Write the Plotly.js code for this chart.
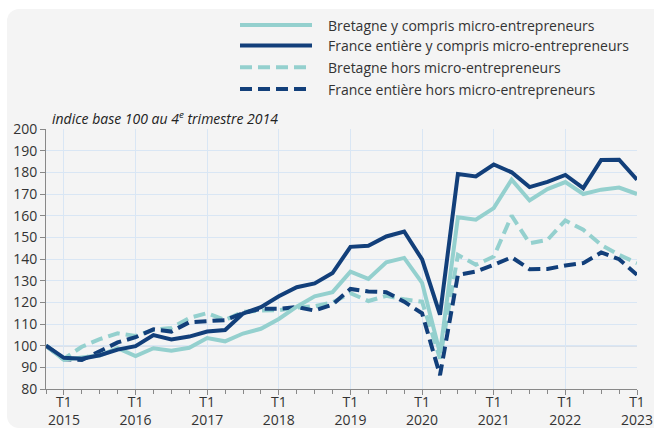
<!DOCTYPE html>
<html>
<head>
<meta charset="utf-8">
<script src="https://cdn.plot.ly/plotly-3.0.1.min.js"></script>
<style>
  html, body { margin:0; padding:0; background:#ffffff; width:654px; height:428px; overflow:hidden; }
  #panel { position:absolute; left:7px; top:9px; width:700px; height:419px; background:#f4f4f4; border-radius:12px; }
  #chart { position:absolute; left:0; top:0; width:654px; height:428px; }
</style>
</head>
<body>
<div id="panel"></div>
<div id="chart"></div>
<script>
// Quarters (index 0 = 4e trimestre 2014)
const quarters = [
  '2014 T4',
  '2015 T1','2015 T2','2015 T3','2015 T4',
  '2016 T1','2016 T2','2016 T3','2016 T4',
  '2017 T1','2017 T2','2017 T3','2017 T4',
  '2018 T1','2018 T2','2018 T3','2018 T4',
  '2019 T1','2019 T2','2019 T3','2019 T4',
  '2020 T1','2020 T2','2020 T3','2020 T4',
  '2021 T1','2021 T2','2021 T3','2021 T4',
  '2022 T1','2022 T2','2022 T3','2022 T4',
  '2023 T1'
];
const tickQuarters = ['2015 T1','2016 T1','2017 T1','2018 T1','2019 T1','2020 T1','2021 T1','2022 T1','2023 T1'];
const tickLabels = ['T1<br>2015','T1<br>2016','T1<br>2017','T1<br>2018','T1<br>2019','T1<br>2020','T1<br>2021','T1<br>2022','T1<br>2023'];

const bretagneYC = [100, 93.4, 94.6, 95.5, 98.8, 95.2, 98.8, 97.7, 99.0, 103.5, 102.0, 105.6, 107.8, 112.3, 118.0, 122.8, 124.7,
  134.2, 130.8, 138.5, 140.5, 129.0, 96.5, 159.3, 158.1, 163.5, 176.6, 167.0, 172.3, 175.5, 170.0, 172.0, 173.0, 170.0];
const franceYC = [100, 94.4, 94.0, 95.6, 98.2, 99.8, 104.9, 102.9, 104.2, 106.5, 107.2, 114.8, 117.8, 122.8, 127.0, 128.7, 133.5,
  145.6, 146.1, 150.4, 152.7, 139.8, 114.3, 179.2, 178.1, 183.6, 180.0, 173.2, 175.6, 178.8, 172.7, 185.7, 185.8, 176.6];
const bretagneHors = [100, 94.0, 99.5, 103.0, 105.7, 104.5, 107.3, 108.2, 112.8, 115.0, 111.8, 115.6, 116.2, 116.4, 117.6, 118.2, 120.0,
  124.2, 120.6, 123.0, 121.4, 120.3, 94.0, 141.9, 137.3, 141.1, 160.0, 147.3, 148.8, 157.8, 153.5, 146.5, 141.9, 138.1];
const franceHors = [100, 93.7, 93.4, 97.2, 101.5, 103.9, 107.5, 106.5, 110.8, 111.3, 111.8, 115.0, 117.0, 117.0, 117.8, 116.2, 119.0,
  126.2, 125.0, 124.7, 120.3, 114.9, 86.4, 132.7, 134.2, 137.3, 140.8, 135.3, 135.4, 137.0, 138.1, 143.0, 139.9, 132.7];

const seriesNames = [
  'Bretagne y compris micro-entrepreneurs',
  'France entière y compris micro-entrepreneurs',
  'Bretagne hors micro-entrepreneurs',
  'France entière hors micro-entrepreneurs'
];

const LIGHT = '#94d0ce';
const DARK = '#123f7a';
const DASH = '12px,6px';
const styles = [
  {color: LIGHT, dash: 'solid'},
  {color: DARK, dash: 'solid'},
  {color: LIGHT, dash: DASH},
  {color: DARK, dash: DASH}
];
const seriesData = [bretagneYC, franceYC, bretagneHors, franceHors];

const xIdx = quarters.map((q, i) => i);
const tickvals = tickQuarters.map(q => quarters.indexOf(q));

const order = [2, 3, 0, 1];
const traces = order.map(k => ({
  x: xIdx,
  y: seriesData[k],
  text: quarters,
  type: 'scatter',
  mode: 'lines',
  name: seriesNames[k],
  showlegend: false,
  line: {color: styles[k].color, width: 4, dash: styles[k].dash},
  hoverinfo: 'text+y'
}));

const L = 46, R = 17, T = 129, B = 39, W = 654, H = 428;
const pw = W - L - R, ph = H - T - B;
const px2x = p => (p - L) / pw;
const py2y = p => (H - B - p) / ph;

const shapes = [
  {type: 'line', xref: 'paper', yref: 'y', x0: 0, x1: 1, y0: 100, y1: 100,
   line: {color: '#8ea6c8', width: 1.2}, layer: 'below'}
];
const annotations = [
  {xref: 'paper', yref: 'paper', x: px2x(50), y: py2y(118), xanchor: 'left', yanchor: 'middle',
   showarrow: false, text: '<i>indice base 100 au 4<sup>e</sup> trimestre 2014</i>',
   font: {family: 'Open Sans', size: 14, color: '#222'}}
];
const legY = [25, 45.5, 67.3, 89];
seriesNames.forEach((name, k) => {
  shapes.push({type: 'line', xref: 'paper', yref: 'paper',
    x0: px2x(240), x1: px2x(312), y0: py2y(legY[k]), y1: py2y(legY[k]),
    line: {color: styles[k].color, width: 4, dash: styles[k].dash}});
  annotations.push({xref: 'paper', yref: 'paper', x: px2x(326), y: py2y(legY[k]),
    xanchor: 'left', yanchor: 'middle', showarrow: false, text: name,
    font: {family: 'Open Sans', size: 14, color: '#333'}});
});

const layout = {
  width: W, height: H,
  margin: {l: L, r: R, t: T, b: B, pad: 0},
  paper_bgcolor: 'rgba(0,0,0,0)',
  plot_bgcolor: 'rgba(0,0,0,0)',
  font: {family: 'Open Sans', size: 14, color: '#333'},
  showlegend: false,
  xaxis: {
    range: [0, quarters.length - 1],
    tickvals: tickvals, ticktext: tickLabels,
    ticks: 'outside', ticklen: 5, tickcolor: '#888', tickwidth: 1,
    ticklabelstandoff: -5,
    showgrid: true, gridcolor: '#d9e6f4', gridwidth: 1,
    showline: true, linecolor: '#888', linewidth: 1,
    zeroline: false,
    minor: {dtick: 1, tick0: 0, ticks: 'outside', ticklen: 4, tickcolor: '#888', showgrid: false},
    tickfont: {family: 'Open Sans', size: 14, color: '#333'},
    fixedrange: true
  },
  yaxis: {
    range: [80, 200], dtick: 10, tick0: 80,
    ticks: 'outside', ticklen: 5, tickcolor: '#888', tickwidth: 1,
    showgrid: true, gridcolor: '#d9e6f4', gridwidth: 1,
    showline: true, linecolor: '#888', linewidth: 1,
    zeroline: false,
    tickfont: {family: 'Open Sans', size: 14, color: '#333'},
    fixedrange: true
  },
  shapes: shapes,
  annotations: annotations
};

Plotly.newPlot('chart', traces, layout, {displayModeBar: false, staticPlot: true});
</script>
</body>
</html>
